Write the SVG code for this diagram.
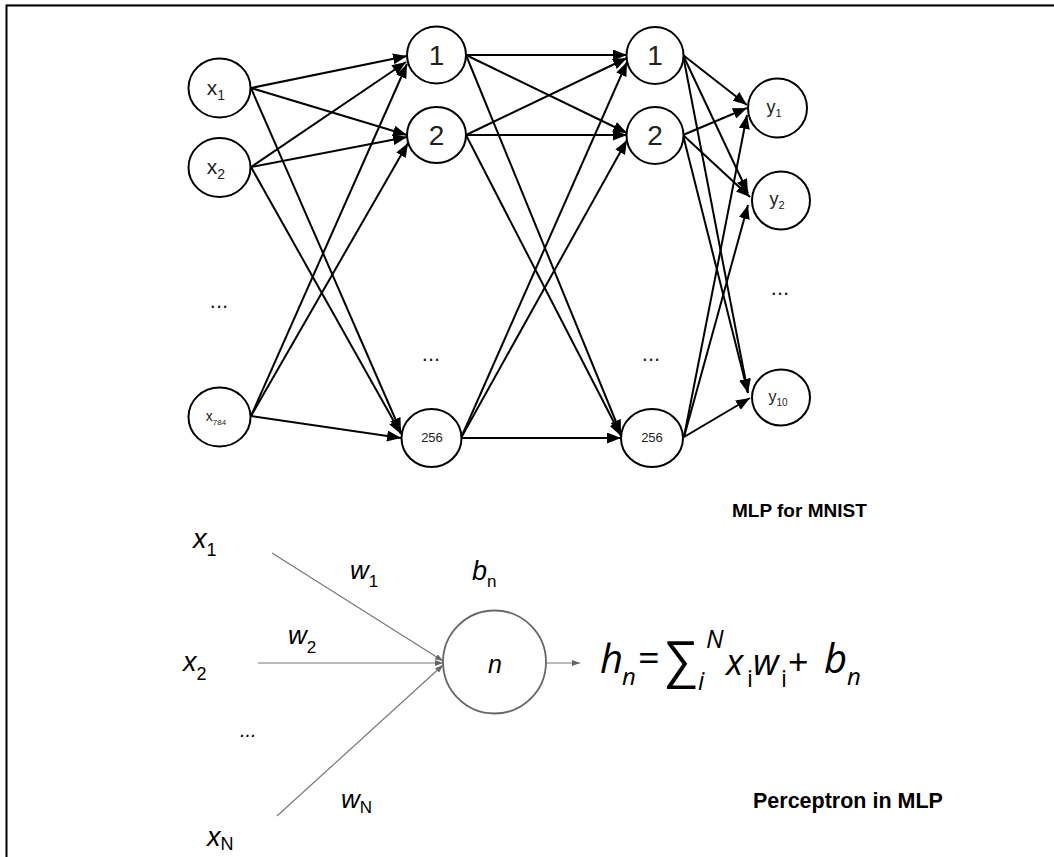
<svg xmlns="http://www.w3.org/2000/svg" width="1054" height="857" viewBox="0 0 1054 857">
<defs>
<marker id="ah" markerUnits="userSpaceOnUse" markerWidth="15" markerHeight="11" refX="14" refY="5.5" orient="auto"><path d="M0,0 L14,5.5 L0,11 z" fill="#000"/></marker>
<marker id="ag" markerUnits="userSpaceOnUse" markerWidth="8" markerHeight="6" refX="8" refY="3" orient="auto"><path d="M0,0 L8,3 L0,6 z" fill="#666"/></marker>
</defs>
<style>
.n{fill:#fff;stroke:#000;stroke-width:2}
.e{stroke:#000;stroke-width:2;fill:none;marker-end:url(#ah)}
.g{stroke:#777;stroke-width:1.2;fill:none;marker-end:url(#ag)}
.t{font-family:"Liberation Sans",Arial,sans-serif;fill:#222;text-anchor:middle}
.b{font-family:"Liberation Sans",Arial,sans-serif;font-weight:bold;fill:#000}
.m{font-family:"Liberation Sans",Arial,sans-serif;font-style:italic;fill:#000}
.f{font-family:"Open Sans","DejaVu Sans",sans-serif;fill:#000}
.fi{font-family:"Open Sans","DejaVu Sans",sans-serif;font-style:italic;fill:#000}
</style>
<rect width="1054" height="857" fill="#fff"/>
<path d="M6,4.5 H1054" stroke="#ccc" stroke-width="1"/>
<path d="M6.5,857 V5.5 H1054" stroke="#000" stroke-width="2" fill="none"/>

<g id="connectors">
<line class="e" x1="251" y1="88" x2="407" y2="56"/>
<line class="e" x1="251" y1="88" x2="407" y2="135"/>
<line class="e" x1="251" y1="88" x2="401" y2="432"/>
<line class="e" x1="251" y1="167" x2="406" y2="62"/>
<line class="e" x1="251" y1="167" x2="407" y2="137"/>
<line class="e" x1="251" y1="167" x2="401" y2="434"/>
<line class="e" x1="251" y1="416" x2="407" y2="64"/>
<line class="e" x1="251" y1="416" x2="408" y2="143"/>
<line class="e" x1="251" y1="416" x2="401" y2="438"/>

<line class="e" x1="466" y1="55" x2="627" y2="55"/>
<line class="e" x1="466" y1="55" x2="627" y2="133"/>
<line class="e" x1="466" y1="55" x2="621" y2="434"/>
<line class="e" x1="466" y1="135" x2="627" y2="58"/>
<line class="e" x1="466" y1="135" x2="627" y2="135"/>
<line class="e" x1="466" y1="135" x2="621" y2="436"/>
<line class="e" x1="461" y1="438" x2="627" y2="62"/>
<line class="e" x1="461" y1="438" x2="627" y2="140"/>
<line class="e" x1="461" y1="438" x2="621" y2="438"/>

<line class="e" x1="683" y1="55" x2="747" y2="105"/>
<line class="e" x1="683" y1="55" x2="748" y2="193"/>
<line class="e" x1="683" y1="55" x2="748" y2="393"/>
<line class="e" x1="683" y1="135" x2="747" y2="108"/>
<line class="e" x1="683" y1="135" x2="750" y2="197"/>
<line class="e" x1="683" y1="135" x2="748" y2="393"/>
<line class="e" x1="684" y1="437" x2="747" y2="115"/>
<line class="e" x1="684" y1="437" x2="748" y2="205"/>
<line class="e" x1="684" y1="437" x2="750" y2="398"/>

<line class="g" x1="272" y1="553" x2="443" y2="661"/>
<line class="g" x1="258" y1="663" x2="443" y2="663"/>
<line class="g" x1="277" y1="816" x2="443" y2="665"/>
<line class="g" x1="546" y1="663" x2="580" y2="663"/>
</g>

<g id="in1"><ellipse class="n" cx="219.5" cy="88" rx="31" ry="29.5"/><text class="t" x="216" y="95" font-size="21">x<tspan font-size="14" dy="5">1</tspan></text></g>
<g id="in2"><ellipse class="n" cx="219.5" cy="167.5" rx="31" ry="29.5"/><text class="t" x="216" y="174" font-size="21">x<tspan font-size="14" dy="5">2</tspan></text></g>
<g id="indots"><text class="t" x="219" y="308" font-size="22">...</text></g>
<g id="in784"><ellipse class="n" cx="219.5" cy="417" rx="31" ry="29.5"/><text class="t" x="216" y="421" font-size="14">x<tspan font-size="8" dy="4">784</tspan></text></g>

<g id="h1_1"><ellipse class="n" cx="436.5" cy="55" rx="29.5" ry="28.5"/><text class="t" x="436.5" y="65" font-size="28">1</text></g>
<g id="h1_2"><ellipse class="n" cx="436.5" cy="135" rx="29.5" ry="28"/><text class="t" x="436.5" y="145" font-size="28">2</text></g>
<g id="h1dots"><text class="t" x="431" y="361" font-size="22">...</text></g>
<g id="h1_256"><ellipse class="n" cx="431.5" cy="438" rx="30" ry="29"/><text class="t" x="432" y="442" font-size="13">256</text></g>

<g id="h2_1"><ellipse class="n" cx="655" cy="55.5" rx="28.5" ry="28.5"/><text class="t" x="655" y="65" font-size="28">1</text></g>
<g id="h2_2"><ellipse class="n" cx="655" cy="135.5" rx="28.5" ry="28.5"/><text class="t" x="655" y="145" font-size="28">2</text></g>
<g id="h2dots"><text class="t" x="651" y="361" font-size="22">...</text></g>
<g id="h2_256"><ellipse class="n" cx="652" cy="438" rx="31" ry="29"/><text class="t" x="652" y="442" font-size="13">256</text></g>

<g id="out1"><ellipse class="n" cx="777.5" cy="108" rx="29.5" ry="29.5"/><text class="t" x="774" y="113" font-size="18">y<tspan font-size="11" dy="4">1</tspan></text></g>
<g id="out2"><ellipse class="n" cx="781" cy="200.5" rx="29" ry="29"/><text class="t" x="777" y="205" font-size="18">y<tspan font-size="11" dy="4">2</tspan></text></g>
<g id="outdots"><text class="t" x="780" y="295" font-size="22">...</text></g>
<g id="out10"><ellipse class="n" cx="781" cy="397.5" rx="29" ry="28"/><text class="t" x="778" y="402" font-size="16">y<tspan font-size="10" dy="4">10</tspan></text></g>

<g id="title1"><text class="b" x="732" y="517" font-size="19">MLP for MNIST</text></g>
<g id="title2"><text class="b" x="753" y="808" font-size="21.5">Perceptron in MLP</text></g>

<g id="perceptron"><circle cx="494.5" cy="662" r="51.5" fill="#fff" stroke="#666" stroke-width="1.8"/><text class="m" x="495" y="673" font-size="25" text-anchor="middle">n</text></g>

<g id="labels">
<text class="m" x="193" y="548" font-size="27">x<tspan font-style="normal" font-size="18" dy="8">1</tspan></text>
<text class="m" x="350" y="579" font-size="26">w<tspan font-style="normal" font-size="17" dy="8">1</tspan></text>
<text class="m" x="472" y="580" font-size="27">b<tspan font-style="normal" font-size="17" dy="7">n</tspan></text>
<text class="m" x="288" y="644" font-size="26">w<tspan font-style="normal" font-size="17" dy="9">2</tspan></text>
<text class="m" x="183" y="671" font-size="27">x<tspan font-style="normal" font-size="18" dy="9">2</tspan></text>
<text class="m" x="240" y="737" font-size="20">...</text>
<text class="m" x="341" y="808" font-size="26">w<tspan font-style="normal" font-size="17" dy="5">N</tspan></text>
<text class="m" x="207" y="846" font-size="27">x<tspan font-style="normal" font-size="18" dy="4">N</tspan></text>
</g>

<g id="formula">
<text class="fi" x="600" y="673" font-size="40">h</text>
<text class="fi" x="622" y="685" font-size="24">n</text>
<text class="f" x="638" y="671" font-size="38">=</text>
<text class="f" x="665" y="677" font-size="50">∑</text>
<text class="fi" x="698" y="690" font-size="25">i</text>
<text class="fi" x="706" y="648" font-size="25">N</text>
<text class="fi" x="726" y="675" font-size="36">x</text>
<text class="f" x="747" y="687" font-size="24">i</text>
<text class="fi" x="753" y="675" font-size="36">w</text>
<text class="f" x="781" y="687" font-size="24">i</text>
<text class="f" x="788" y="675" font-size="36">+</text>
<text class="fi" x="824" y="673" font-size="40">b</text>
<text class="fi" x="847" y="685" font-size="24">n</text>
</g>
</svg>
